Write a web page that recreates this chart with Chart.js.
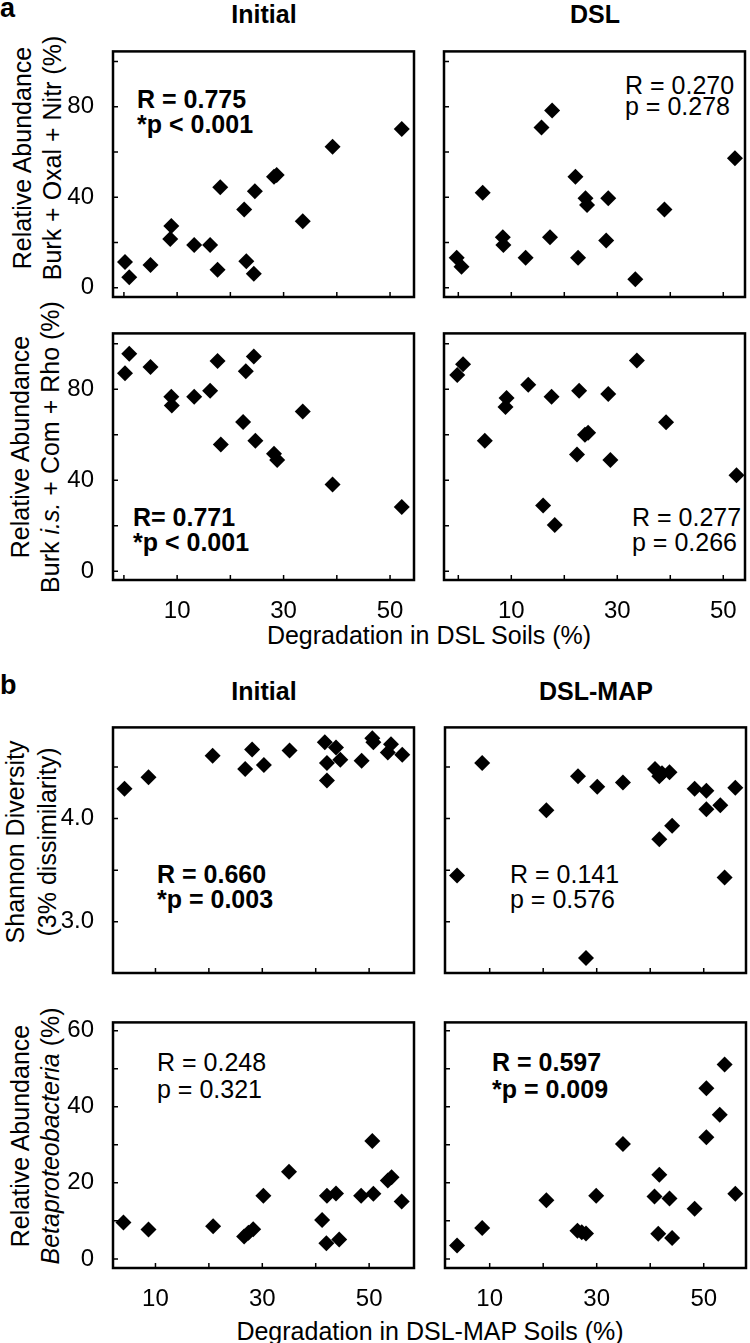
<!DOCTYPE html>
<html>
<head>
<meta charset="utf-8">
<script src="https://cdn.jsdelivr.net/npm/chart.js@4.4.1/dist/chart.umd.min.js"></script>
<style>
  body { margin: 0; background: #fff; }
  #fig { position: relative; width: 750px; height: 1343px; overflow: hidden;
         font-family: 'Liberation Sans', Arial, Helvetica, sans-serif; color: #000; }
  #fig canvas { position: absolute; }
  .txt { position: absolute; white-space: nowrap; font-size: 25px; line-height: 25px; }
  .b { font-weight: bold; }
  .ttl { position: absolute; width: 300px; text-align: center; font-size: 25px; line-height: 25px; font-weight: bold; }
  .ytitle { position: absolute; width: 340px; text-align: center; font-size: 25px; line-height: 30px;
            transform: rotate(-90deg); white-space: nowrap; }
  .xtitle { position: absolute; width: 600px; text-align: center; font-size: 25px; line-height: 25px; white-space: nowrap; }
  .letter { position: absolute; left: 0; font-size: 27px; line-height: 27px; font-weight: bold; }
</style>
</head>
<body>
<div id="fig">
  <div class="letter" style="top:-5px">a</div>
  <div class="letter" style="top:672px">b</div>

  <div class="ttl" style="left:114px; top:2px">Initial</div>
  <div class="ttl" style="left:445px; top:2px">DSL</div>
  <div class="ttl" style="left:114px; top:679px">Initial</div>
  <div class="ttl" style="left:446px; top:679px">DSL-MAP</div>

  <div class="ytitle" style="left:-133px; top:128px; height:60px">Relative Abundance<br>Burk + Oxal + Nitr (%)</div>
  <div class="ytitle" style="left:-135px; top:417px; height:60px">Relative Abundance<br>Burk <i>i.s.</i> + Com + Rho (%)</div>
  <div class="ytitle" style="left:-139px; top:810px; height:64px; line-height:32px">Shannon Diversity<br>(3% dissimilarity)</div>
  <div class="ytitle" style="left:-135px; top:1106px; height:60px">Relative Abundance<br><i>Betaproteobacteria</i> (%)</div>

  <div class="xtitle" style="left:129px; top:623px">Degradation in DSL Soils (%)</div>
  <div class="xtitle" style="left:130px; top:1319px">Degradation in DSL-MAP Soils (%)</div>

  <div class="txt b" style="left:137px; top:87px">R = 0.775</div>
  <div class="txt b" style="left:137px; top:112px">*p &lt; 0.001</div>
  <div class="txt" style="left:625px; top:73px">R = 0.270</div>
  <div class="txt" style="left:625px; top:94px">p = 0.278</div>
  <div class="txt b" style="left:133px; top:505px">R= 0.771</div>
  <div class="txt b" style="left:133px; top:530px">*p &lt; 0.001</div>
  <div class="txt" style="left:632px; top:505px">R = 0.277</div>
  <div class="txt" style="left:632px; top:530px">p = 0.266</div>

  <div class="txt b" style="left:157px; top:862px">R = 0.660</div>
  <div class="txt b" style="left:157px; top:887px">*p = 0.003</div>
  <div class="txt" style="left:510px; top:862px">R = 0.141</div>
  <div class="txt" style="left:510px; top:887px">p = 0.576</div>
  <div class="txt" style="left:157px; top:1050px">R = 0.248</div>
  <div class="txt" style="left:157px; top:1077px">p = 0.321</div>
  <div class="txt b" style="left:492px; top:1050px">R = 0.597</div>
  <div class="txt b" style="left:492px; top:1077px">*p = 0.009</div>
</div>

<script>
// Dados lidos da figura
// a: Degradação nos solos DSL (%) x abundância relativa (%)
const degInicialA = [0.2, 1.0, 5.0, 8.9, 8.7, 13.2, 16.2, 18.1, 17.6, 22.6, 23.0, 24.4, 24.6, 28.2, 28.7, 33.6, 39.2, 52.2];
const burkOxalNitrInicial = [11.4, 4.6, 10.1, 27.3, 21.6, 18.9, 18.9, 44.4, 7.9, 34.6, 11.7, 6.2, 42.7, 49.1, 49.8, 29.4, 62.3, 70.2];

const degDslA = [-0.3, 0.6, 4.6, 8.4, 8.5, 12.7, 15.7, 17.7, 17.3, 22.1, 22.6, 24.0, 24.3, 28.3, 27.9, 33.4, 38.9, 52.2];
const burkOxalNitrDsl = [13.3, 9.3, 42.0, 22.3, 18.9, 13.3, 70.9, 78.4, 22.3, 49.1, 13.3, 39.6, 36.6, 39.6, 20.9, 3.8, 34.6, 57.3];

const degInicialA2 = [0.2, 1.0, 5.0, 8.9, 9.0, 13.2, 16.2, 17.6, 18.2, 22.9, 22.4, 24.4, 24.7, 28.2, 28.8, 33.6, 39.2, 52.2];
const burkComRhoInicial = [87.1, 95.6, 89.8, 76.7, 72.9, 76.7, 79.4, 92.5, 55.8, 88.0, 65.7, 94.4, 57.4, 51.7, 49.0, 70.3, 38.2, 28.3];

const degDslA2 = [-0.2, 0.9, 5.0, 9.1, 8.9, 13.2, 17.6, 16.0, 18.2, 22.8, 22.4, 24.5, 23.9, 28.3, 28.7, 33.7, 39.2, 52.5];
const burkComRhoDsl = [86.3, 91.0, 57.4, 76.2, 72.3, 82.0, 76.7, 28.9, 20.4, 79.4, 51.4, 60.9, 60.0, 78.0, 49.0, 92.7, 65.5, 42.3];

// b: Degradação nos solos DSL-MAP (%)
const degInicialB = [4.2, 8.7, 20.7, 26.8, 28.1, 30.3, 35.1, 41.7, 42.1, 42.1, 43.8, 44.6, 48.6, 50.6, 50.8, 53.5, 54.1, 56.2];
const shannonInicial = [4.29, 4.40, 4.61, 4.48, 4.67, 4.52, 4.66, 4.74, 4.54, 4.37, 4.69, 4.57, 4.56, 4.78, 4.74, 4.64, 4.72, 4.62];

const degMapB = [3.9, 8.6, 20.6, 26.5, 28.0, 30.1, 34.9, 40.9, 41.7, 43.6, 41.7, 44.1, 48.3, 50.5, 50.5, 53.1, 53.9, 55.9, 42.2];
const shannonMap = [3.45, 4.54, 4.08, 4.41, 2.65, 4.31, 4.35, 4.48, 4.41, 4.45, 3.80, 3.93, 4.29, 4.27, 4.09, 4.13, 3.43, 4.30, 4.44];

const degInicialB2 = [4.0, 8.7, 20.8, 26.6, 27.4, 28.3, 30.2, 35.0, 41.2, 42.1, 42.0, 43.8, 44.4, 48.5, 50.8, 50.6, 53.5, 54.2, 56.1];
const betaInicial = [9.6, 7.7, 8.6, 5.9, 6.9, 7.8, 16.6, 22.9, 10.2, 16.6, 4.1, 17.2, 5.1, 16.6, 17.1, 31.0, 20.6, 21.5, 15.1];

const degMapB2 = [3.9, 8.6, 20.6, 26.4, 27.2, 28.0, 29.9, 34.9, 41.7, 40.8, 43.6, 41.5, 44.1, 48.3, 50.5, 50.5, 53.0, 53.9, 55.9];
const betaMap = [3.5, 8.1, 15.4, 7.4, 7.0, 6.7, 16.6, 30.2, 22.1, 16.4, 15.9, 6.6, 5.5, 13.2, 32.0, 44.9, 37.9, 51.1, 17.1];

// Marcas e rótulos dos eixos
const ticksDegA = [0, 10, 20, 30, 40, 50];
const ticksDegB = [10, 20, 30, 40, 50];
const labelsDeg = [10, 30, 50];
const ticksAbund = [0, 20, 40, 60, 80, 100];
const labelsAbund = [0, 40, 80];
const ticksShannon = [3.0, 3.5, 4.0, 4.5];
const labelsShannon = [3.0, 4.0];
const ticksBeta = [0, 10, 20, 30, 40, 50, 60];
const labelsBeta = [0, 20, 40, 60];

Chart.defaults.font.family = "'Liberation Sans', Arial, Helvetica, sans-serif";
Chart.defaults.color = '#000';

// Moldura da área do gráfico com marcas para dentro
const moldura = {
    id: 'moldura',
    afterDatasetsDraw(chart) {
        const { ctx, chartArea: a, scales: { x, y } } = chart;
        ctx.save();
        ctx.strokeStyle = '#000';
        ctx.lineWidth = 1.5;
        ctx.beginPath();
        x.ticks.forEach((t, i) => {
            const px = x.getPixelForTick(i);
            ctx.moveTo(px, a.bottom);
            ctx.lineTo(px, a.bottom - 5);
        });
        y.ticks.forEach((t, i) => {
            const py = y.getPixelForTick(i);
            ctx.moveTo(a.left, py);
            ctx.lineTo(a.left + 5, py);
        });
        ctx.stroke();
        ctx.lineWidth = 2.5;
        ctx.strokeRect(a.left, a.top, a.right - a.left, a.bottom - a.top);
        ctx.restore();
    }
};

function eixo(cfg, dir) {
    return {
        type: 'linear',
        min: cfg.min,
        max: cfg.max,
        grid: { display: false },
        border: { display: false },
        afterBuildTicks: s => { s.ticks = cfg.ticks.map(v => ({ value: v })); },
        afterFit: s => { if (dir === 'x') s.height = 45; else s.width = 60; },
        ticks: {
            autoSkip: false,
            maxRotation: 0,
            padding: dir === 'x' ? 9 : 11,
            font: { size: 24 },
            color: '#000',
            callback: v => (cfg.labels && cfg.labels.includes(v)) ? (cfg.fmt ? cfg.fmt(v) : String(v)) : ''
        }
    };
}

// Cria um painel de dispersão; box = área do gráfico em pixels da página
function painel(box, xs, ys, xCfg, yCfg) {
    const cv = document.createElement('canvas');
    cv.width = box.w + 66;
    cv.height = box.h + 50;
    cv.style.left = (box.l - 60) + 'px';
    cv.style.top = (box.t - 5) + 'px';
    document.getElementById('fig').appendChild(cv);

    new Chart(cv.getContext('2d'), {
        type: 'scatter',
        data: {
            datasets: [{
                data: xs.map((x, i) => ({ x: x, y: ys[i] })),
                pointStyle: 'rectRot',
                pointRadius: 8,
                pointHoverRadius: 8,
                backgroundColor: '#000',
                borderWidth: 0
            }]
        },
        options: {
            responsive: false,
            animation: false,
            events: [],
            layout: { padding: { left: 0, top: 5, right: 6, bottom: 0 } },
            plugins: { legend: { display: false }, tooltip: { enabled: false } },
            scales: { x: eixo(xCfg, 'x'), y: eixo(yCfg, 'y') }
        },
        plugins: [moldura]
    });
}

const fmt1 = v => v.toFixed(1);

// a
painel({ l: 113, t: 31, w: 303, h: 266 }, degInicialA, burkOxalNitrInicial,
    { min: -2.05, max: 54.5, ticks: ticksDegA },
    { min: -4.1, max: 104.5, ticks: ticksAbund, labels: labelsAbund });
painel({ l: 444, t: 31, w: 303, h: 266 }, degDslA, burkOxalNitrDsl,
    { min: -2.7, max: 54.1, ticks: ticksDegA },
    { min: -4.1, max: 104.5, ticks: ticksAbund });
painel({ l: 113, t: 313, w: 303, h: 267 }, degInicialA2, burkComRhoInicial,
    { min: -2.05, max: 54.5, ticks: ticksDegA, labels: labelsDeg },
    { min: -3.8, max: 104.6, ticks: ticksAbund, labels: labelsAbund });
painel({ l: 444, t: 313, w: 303, h: 267 }, degDslA2, burkComRhoDsl,
    { min: -2.7, max: 54.1, ticks: ticksDegA, labels: labelsDeg },
    { min: -3.8, max: 104.6, ticks: ticksAbund });

// b
painel({ l: 113, t: 707, w: 303, h: 266 }, degInicialB, shannonInicial,
    { min: 2.05, max: 58.4, ticks: ticksDegB },
    { min: 2.504, max: 4.884, ticks: ticksShannon, labels: labelsShannon, fmt: fmt1 });
painel({ l: 445, t: 707, w: 303, h: 266 }, degMapB, shannonMap,
    { min: 1.65, max: 57.9, ticks: ticksDegB },
    { min: 2.504, max: 4.884, ticks: ticksShannon });
painel({ l: 113, t: 1002, w: 303, h: 266 }, degInicialB2, betaInicial,
    { min: 2.05, max: 58.4, ticks: ticksDegB, labels: labelsDeg },
    { min: -2.4, max: 62.2, ticks: ticksBeta, labels: labelsBeta });
painel({ l: 445, t: 1002, w: 303, h: 266 }, degMapB2, betaMap,
    { min: 1.65, max: 57.9, ticks: ticksDegB, labels: labelsDeg },
    { min: -2.4, max: 62.2, ticks: ticksBeta });
</script>
</body>
</html>
